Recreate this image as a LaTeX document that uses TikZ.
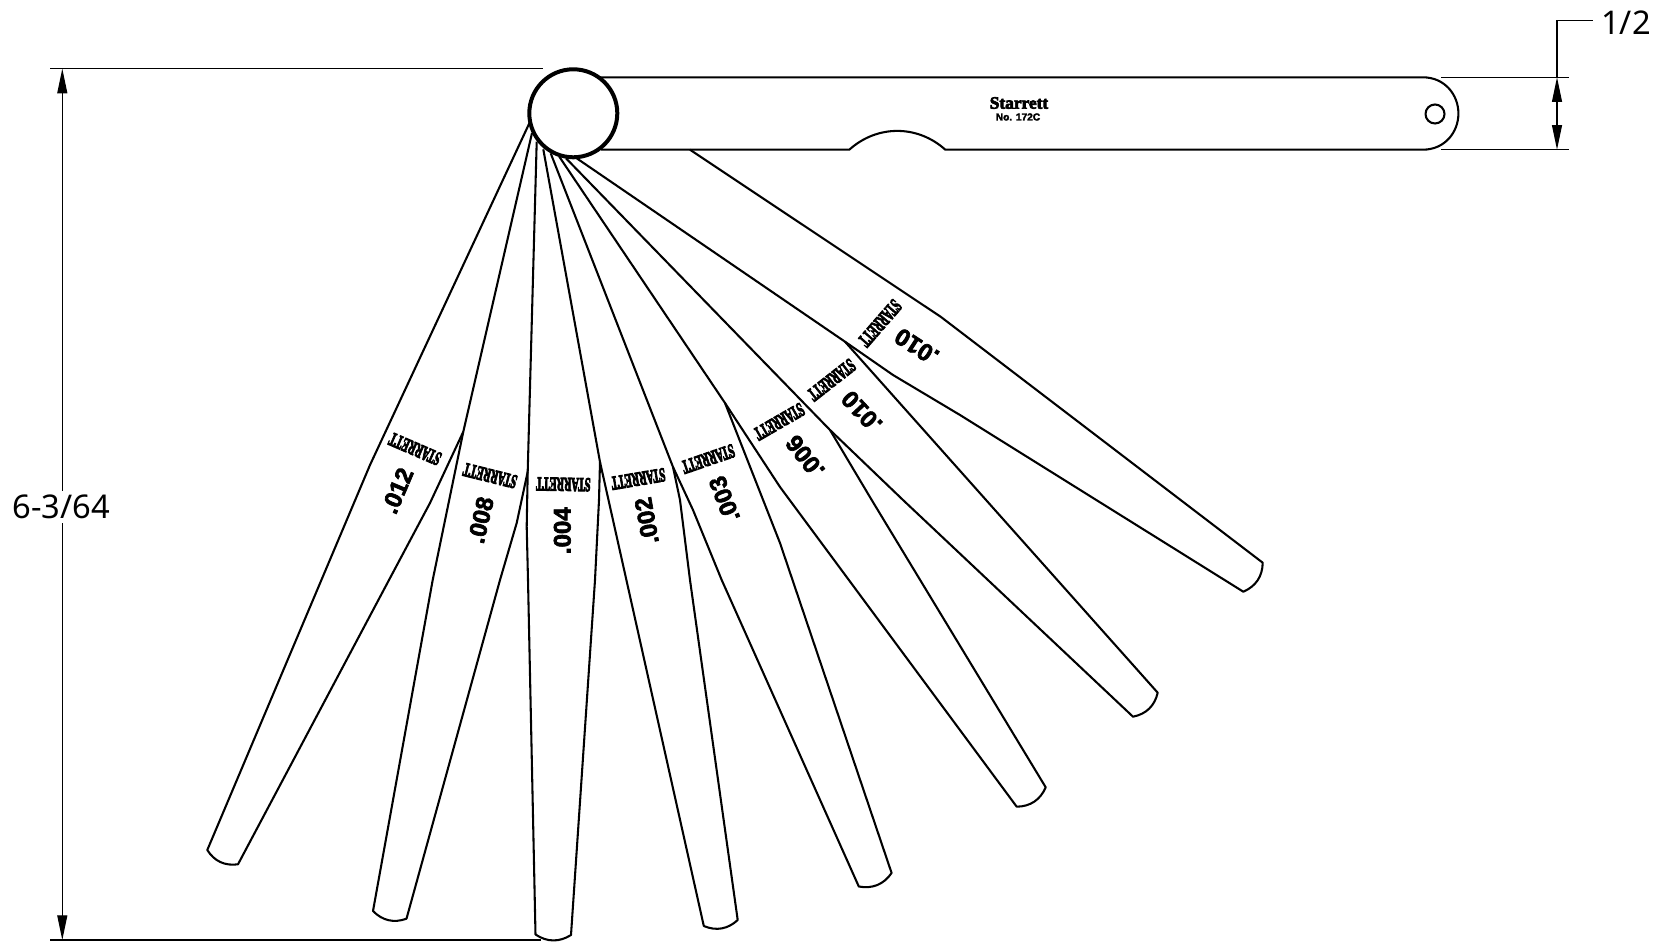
\documentclass[tikz,border=0pt]{standalone}
\usepackage{fontspec}
\usetikzlibrary{arrows.meta}
\setmainfont{Liberation Sans}
\newfontfamily\dimfont{Noto Sans}
\newfontfamily\stampfont[FakeBold=6]{Liberation Serif Bold}
\newfontfamily\gaugefont[FakeBold=2.8]{Liberation Sans Bold}
\newfontfamily\logofont[FakeBold=4]{Liberation Serif Bold}
\newfontfamily\modelfont[FakeBold=3]{Liberation Sans Bold}
\tikzset{
  edge/.style={draw=black,line width=1.55pt,line join=round},
  pivot/.style={draw=black,line width=3pt,fill=white},
  dimline/.style={draw=black,line width=0.85pt},
  dimarrow/.style={draw=black,line width=0.85pt,{Triangle[length=18.5pt,width=7.5pt]}-{Triangle[length=18.5pt,width=7.5pt]}},
  dimlabel/.style={font=\dimfont\fontsize{24.5}{24.5}\selectfont,inner sep=0pt,fill=white,inner ysep=3pt},
  stamp/.style={font=\stampfont\fontsize{7.7}{8}\selectfont,inner sep=0pt},
  gauge/.style={font=\gaugefont\fontsize{18}{18}\selectfont,inner sep=0pt,transform shape},
}
\begin{document}
\begin{tikzpicture}[x=0.75pt,y=-0.75pt]
\useasboundingbox (0,0) rectangle (1653,944);
\fill[white] (0,0) rectangle (1653,944);
% dimension 6-3/64
\coordinate (extA) at (50,68.7);
\coordinate (extB) at (543,68.7);
\coordinate (extC) at (50,940);
\coordinate (extD) at (541,940);
\coordinate (dimT) at (62.3,68.7);
\coordinate (dimB) at (62.3,940);
\draw[dimline] (extA) -- (extB);
\draw[dimline] (extC) -- (extD);
\draw[dimarrow] (dimT) -- (dimB);
\node[dimlabel] (lenlabel) at (61.5,506.6) {6-3/64};
% dimension 1/2
\coordinate (wA) at (1441,77.3);
\coordinate (wB) at (1569,77.3);
\coordinate (wC) at (1441,149.7);
\coordinate (wD) at (1569,149.7);
\coordinate (wT) at (1557,77.3);
\coordinate (wU) at (1557,149.7);
\coordinate (wE) at (1557,20.7);
\coordinate (wF) at (1593,20.7);
\draw[dimline] (wA) -- (wB);
\draw[dimline] (wC) -- (wD);
\draw[dimarrow] (wT) -- (wU);
\draw[dimline] (wT) -- (wE) -- (wF);
\node[font=\dimfont\fontsize{24.5}{24.5}\selectfont,inner sep=0pt] (wlabel) at (1626,23) {1/2};
% main bar
\draw[edge] (600,77.3) -- (1422.7,77.3)
  .. controls (1445,77.3) and (1458.4,95) .. (1458.4,113.5)
  .. controls (1458.4,132) and (1445,149.7) .. (1422.7,149.7)
  -- (945.3,149.7) to[bend right=42] (849.3,149.7) -- (601,149.7);
\draw[edge] (1435,114) circle (9.5);
\node[font=\logofont\fontsize{13}{13}\selectfont,inner sep=0pt] (logo) at (1019,103) {Starrett};
\node[font=\modelfont\fontsize{7.6}{8}\selectfont,inner sep=0pt] (model) at (1018,117) {No. 172C};
% blades: full outlines
% .012
\draw[edge] (529.3,123.3) -- (370,465) -- (207.3,850) to[bend right=33] (238,864.3)
  -- (389,580) -- (430,503) -- (463.3,431.7);
% .008
\draw[edge] (532,133) -- (463.3,431.7) -- (432.7,580) -- (373,911) to[bend right=33] (406.5,918.7)
  -- (500,580) -- (516.7,523) -- (527.7,471.7);
% .004
\draw[edge] (536.7,141.7) -- (527.7,471.7) -- (526.7,526.7) -- (528,580) -- (535.5,934.5) to[bend right=33] (571,935)
  -- (595,580) -- (599,500) -- (600,462);
% .002
\draw[edge] (543.3,149.3) -- (600,462) -- (703.8,926) to[bend right=33] (737.7,920)
  -- (690,580) -- (680,500) -- (673,467);
% .003
\draw[edge] (550.7,153.3) -- (673,467) -- (693,510) -- (721.7,580) -- (858.8,886.5) to[bend right=33] (891.6,873)
  -- (780,543) -- (725,403);
% .006
\draw[edge] (559.3,156.7) -- (725,403) -- (780,487) -- (1016.7,806.7) to[bend right=33] (1045.7,787.3)
  -- (871.7,500) -- (830,430);
% .010 lower
\draw[edge] (566,158.3) -- (830,430) -- (903,500) -- (1133,716.7) to[bend right=33] (1157.7,692.7)
  -- (845,341.7);
% .010 upper
\draw[edge] (576.7,158.3) -- (845,341.7) -- (893,375) -- (960,415) -- (1243.3,591.7) to[bend right=33] (1262.7,562.7)
  -- (941,317) -- (690,149.7);
% pivot
\node[pivot,circle,minimum size=66pt,inner sep=0pt] (pivotc) at (573.3,113.3) {};
% stamps
\node[stamp,rotate=156.6,yscale=1.9,transform shape] (s1) at (415,449) {STARRETT};
\node[stamp,rotate=166,yscale=1.9,transform shape] (s2) at (490,475.7) {STARRETT};
\node[stamp,rotate=179,yscale=1.9,transform shape] (s3) at (563.3,484.3) {STARRETT};
\node[stamp,rotate=189.6,yscale=1.9,transform shape] (s4) at (638.3,479) {STARRETT};
\node[stamp,rotate=199,yscale=1.9,transform shape] (s5) at (708.3,459) {STARRETT};
\node[stamp,rotate=210,yscale=1.9,transform shape] (s6) at (779.3,421.7) {STARRETT};
\node[stamp,rotate=218,yscale=1.9,transform shape] (s7) at (831.7,380) {STARRETT};
\node[stamp,rotate=229,yscale=1.9,transform shape] (s8) at (880,323.3) {STARRETT};
% gauges
\node[gauge,rotate=67] (g1) at (397.3,490.7) {.012};
\node[gauge,rotate=77] (g2) at (480.7,520) {.008};
\node[gauge,rotate=90] (g3) at (562.3,530.7) {.004};
\node[gauge,rotate=100] (g4) at (646.7,520.7) {.002};
\node[gauge,rotate=111] (g5) at (724.3,499) {.003};
\node[gauge,rotate=128] (g6) at (805,456.7) {.006};
\node[gauge,rotate=133] (g7) at (861.7,411.7) {.010};
\node[gauge,rotate=147] (g8) at (916.7,346.7) {.010};
\end{tikzpicture}
\end{document}
